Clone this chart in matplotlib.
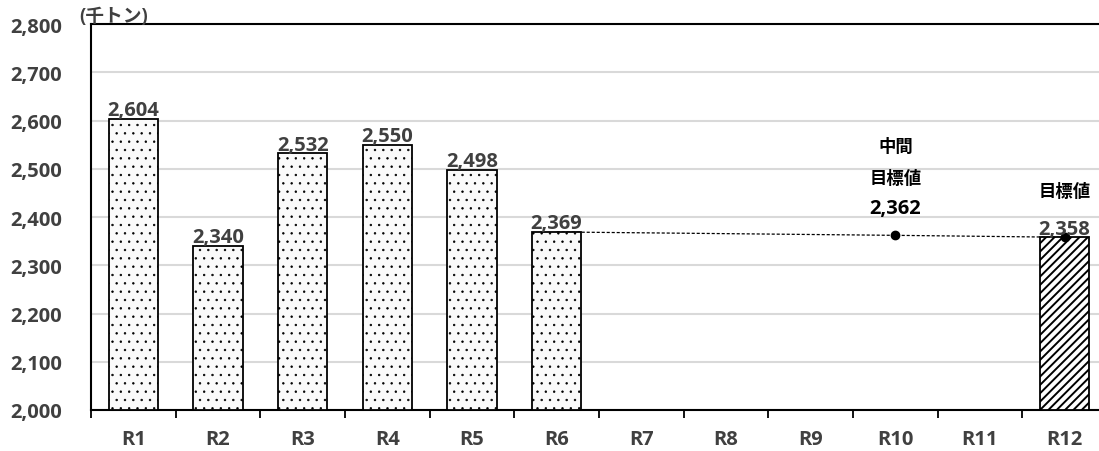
import matplotlib as mpl
import matplotlib.pyplot as plt

plt.rcParams['font.family'] = ['Open Sans', 'Noto Sans CJK JP']

# data
years = ['R1', 'R2', 'R3', 'R4', 'R5', 'R6', 'R7', 'R8', 'R9', 'R10', 'R11', 'R12']
actual = [2604, 2340, 2532, 2550, 2498, 2369]          # R1..R6
target_cat = ['R6', 'R10', 'R12']
target_val = [2369, 2362, 2358]
goal = 2358                                              # R12 target bar
yticks = [2000, 2100, 2200, 2300, 2400, 2500, 2600, 2700, 2800]

grey = '#404040'
fs = 14.5
jfs = 12.5

fig = plt.figure(figsize=(10.99, 4.52), dpi=100)
ax = fig.add_axes((91/1099, 1-411/452, (1107-91)/1099, (411-25)/452))

x = list(range(len(years)))
idx = {k: i for i, k in enumerate(years)}

# target line behind bars
tx = [idx[c] for c in target_cat]
ax.plot(tx, target_val, color='black', lw=0.9, ls=(0, (2.5, 1.5)), zorder=2)
ax.plot(tx[1:], target_val[1:], 'o', color='black', ms=6, zorder=5)

with plt.rc_context({'hatch.linewidth': 0.5}):
    ax.bar(x[:len(actual)], [v - 2000 for v in actual], bottom=2000, width=0.58,
           color='#fafafa', edgecolor='black', lw=1.3, hatch='..', zorder=3)
with plt.rc_context({'hatch.linewidth': 1.4}):
    ax.bar(idx['R12'], goal - 2000, bottom=2000, width=0.58,
           color='white', edgecolor='black', lw=1.3, hatch='////', zorder=3)

for i, v in enumerate(actual):
    ax.text(i, v - 3, f'{v:,}', ha='center', va='bottom', fontsize=fs,
            fontweight='bold', color=grey, zorder=6)
ax.text(idx['R12'], goal - 3, f'{goal:,}', ha='center', va='bottom', fontsize=fs,
        fontweight='bold', color=grey, zorder=6)
ax.annotate('目標値', (idx['R12'], goal), xytext=(0, 33), textcoords='offset points',
            ha='center', va='center', fontsize=jfs, fontweight='bold')

mid = target_val[1]
ax.annotate(f'{mid:,}', (idx['R10'], mid), xytext=(0, 20), textcoords='offset points',
            ha='center', va='center', fontsize=fs, fontweight='bold')
ax.annotate('目標値', (idx['R10'], mid), xytext=(0, 41), textcoords='offset points',
            ha='center', va='center', fontsize=jfs, fontweight='bold')
ax.annotate('中間', (idx['R10'], mid), xytext=(0, 64), textcoords='offset points',
            ha='center', va='center', fontsize=jfs, fontweight='bold')

ax.set_xlim(-0.5, len(years) - 0.5)
ax.set_ylim(2000, 2800)
ax.set_yticks(yticks)
ax.set_yticklabels([f'{t:,}' for t in yticks])
ax.set_xticks(x)
ax.set_xticklabels(years)
ax.set_xticks([i - 0.5 for i in x] + [len(years) - 0.5], minor=True)

ax.tick_params(axis='y', length=0, pad=21, labelsize=fs, labelcolor=grey)
ax.tick_params(axis='x', which='major', length=0, pad=14, labelsize=fs, labelcolor=grey)
ax.tick_params(axis='x', which='minor', length=6, width=1.3, direction='out', color='black')
for t in ax.get_xticklabels() + ax.get_yticklabels():
    t.set_fontweight('bold')

ax.grid(axis='y', color='#d9d9d9', lw=1.5, zorder=0)
ax.set_axisbelow(True)
for s in ['left', 'top', 'bottom']:
    ax.spines[s].set_linewidth(1.5)
    ax.spines[s].set_color('black')
ax.spines['right'].set_visible(False)

fig.text(79/1099, 1-17/452, '(千トン)', ha='left', va='center', fontsize=13.5,
         fontweight='bold', color=grey)

fig.savefig('out.png', dpi=100)
